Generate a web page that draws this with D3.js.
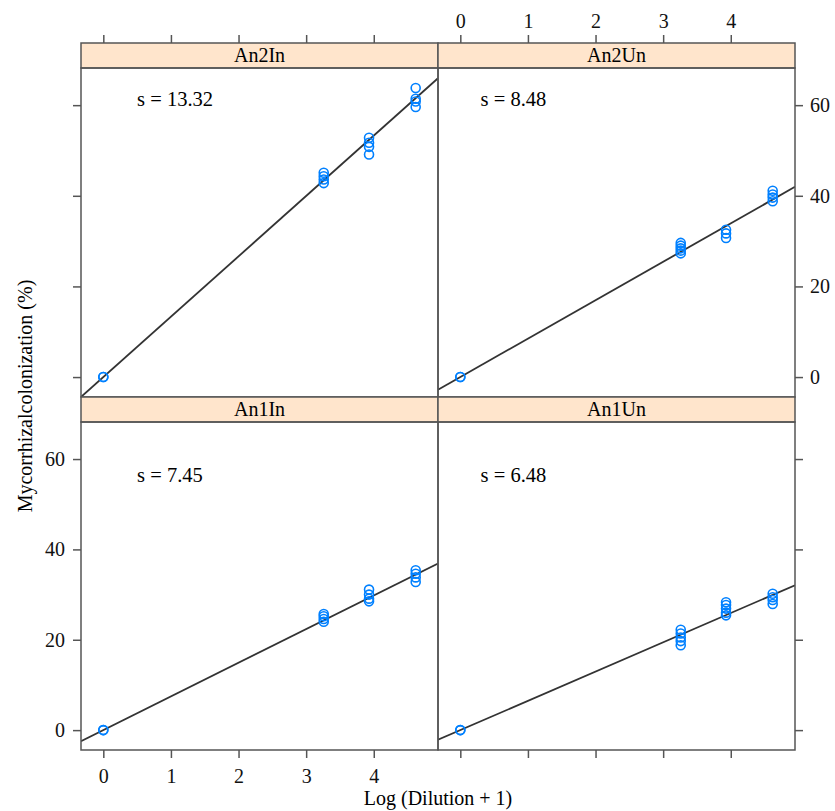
<!DOCTYPE html>
<html>
<head>
<meta charset="utf-8">
<script src="https://cdn.jsdelivr.net/npm/d3@7"></script>
<style>
  body { margin: 0; background: white; }
  svg text { font-family: "Times New Roman", "Liberation Serif", "DejaVu Serif", serif; }
</style>
</head>
<body>
<div id="chart"></div>
<script>
let w = 835;
let h = 811;
let serif = '"Times New Roman", "Liberation Serif", "DejaVu Serif", serif';

// data
let panelNames = ["An2In", "An2Un", "An1In", "An1Un"];
let slopes = [13.32, 8.48, 7.45, 6.48];
let dilutionX = [0, 3.26, 3.93, 4.62];
let xTicks = [0, 1, 2, 3, 4];
let yTicks = [0, 20, 40, 60];

// colonization values at each dilution level, per panel
let an2InY = [[0, 0], [45.1, 44.3, 43.6, 42.8], [52.8, 51.7, 50.8, 49.1], [63.8, 61.4, 60.8, 59.6]];
let an2UnY = [[0, 0], [29.6, 29.0, 28.4, 27.9, 27.3], [32.5, 31.7, 30.7], [41.1, 40.3, 39.6, 38.8]];
let an1InY = [[0, 0], [25.7, 25.2, 24.6, 24.0], [31.1, 30.0, 29.1, 28.5], [35.4, 34.6, 33.8, 32.8]];
let an1UnY = [[0, 0], [22.2, 21.4, 20.5, 19.7, 18.8], [28.3, 27.7, 26.9, 26.0, 25.4], [30.2, 29.4, 28.8, 27.9]];
let panelY = [an2InY, an2UnY, an1InY, an1UnY];

// where the "s = " label sits in each panel (data units)
let labelX = [0.5, 0.3, 0.5, 0.3];
let labelY = [61.3, 61.3, 56.4, 56.4];

let colLeft = [81, 438];
let colRight = [438, 795];
let rowStrip = [43, 397];
let stripH = 25;
let rowBottom = [397, 750];

let xDomain = [-0.33, 4.95];
let yDomain = [-4.4, 68.2];

let borderCol = "#555";
let fontSize = 20;

let svg = d3.select("#chart").append("svg")
  .attr("width", w)
  .attr("height", h);

let defs = svg.append("defs");

panelNames.forEach((name, i) => {
  let col = i % 2;
  let row = Math.floor(i / 2);

  let xScale = d3.scaleLinear().domain(xDomain).range([colLeft[col], colRight[col]]);
  let yScale = d3.scaleLinear().domain(yDomain).range([rowBottom[row], rowStrip[row] + stripH]);

  let g = svg.append("g").attr("class", "panel");

  // clip for the fitted line
  defs.append("clipPath").attr("id", "clip" + i)
    .append("rect")
    .attr("x", colLeft[col])
    .attr("y", rowStrip[row] + stripH)
    .attr("width", colRight[col] - colLeft[col])
    .attr("height", rowBottom[row] - rowStrip[row] - stripH);

  // fitted line y = s * x
  let lineData = xDomain.map(x => [x, slopes[i] * x]);
  g.append("path")
    .datum(lineData)
    .attr("clip-path", "url(#clip" + i + ")")
    .attr("fill", "none")
    .attr("stroke", "#333")
    .attr("stroke-width", 1.8)
    .attr("d", d3.line().x(d => xScale(d[0])).y(d => yScale(d[1])));

  // points
  let pts = [];
  panelY[i].forEach((vals, k) => {
    vals.forEach(v => pts.push({ x: dilutionX[k], y: v }));
  });
  g.selectAll(".datapoint").data(pts).enter()
    .append("circle")
    .attr("class", "datapoint")
    .attr("cx", d => xScale(d.x))
    .attr("cy", d => yScale(d.y))
    .attr("r", 4.5)
    .attr("fill", "none")
    .attr("stroke", "#0080ff")
    .attr("stroke-width", 1.6);

  // slope label
  g.append("text")
    .attr("x", xScale(labelX[i]))
    .attr("y", yScale(labelY[i]))
    .attr("dy", "0.35em")
    .style("font-size", "20.5px")
    .text("s = " + slopes[i].toFixed(2));

  // strip
  g.append("rect")
    .attr("x", colLeft[col])
    .attr("y", rowStrip[row])
    .attr("width", colRight[col] - colLeft[col])
    .attr("height", stripH)
    .attr("fill", "#ffe5cc")
    .attr("stroke", borderCol)
    .attr("stroke-width", 1.5);
  g.append("text")
    .attr("x", (colLeft[col] + colRight[col]) / 2)
    .attr("y", rowStrip[row] + 19)
    .attr("text-anchor", "middle")
    .style("font-size", fontSize + "px")
    .text(name);

  // panel border
  g.append("rect")
    .attr("x", colLeft[col])
    .attr("y", rowStrip[row] + stripH)
    .attr("width", colRight[col] - colLeft[col])
    .attr("height", rowBottom[row] - rowStrip[row] - stripH)
    .attr("fill", "none")
    .attr("stroke", borderCol)
    .attr("stroke-width", 1.5);

  // axes, lattice style alternating labels
  let showXLabel = (row === 0 && col === 1) || (row === 1 && col === 0);
  let showYLabel = (row === 1 && col === 0) || (row === 0 && col === 1);

  if (row === 0) {
    let ax = d3.axisTop(xScale).tickValues(xTicks).tickSize(8).tickPadding(7)
      .tickFormat(showXLabel ? d3.format("d") : "");
    g.append("g").attr("transform", `translate(0,${rowStrip[row]})`).call(ax);
  } else {
    let ax = d3.axisBottom(xScale).tickValues(xTicks).tickSize(8).tickPadding(11)
      .tickFormat(showXLabel ? d3.format("d") : "");
    g.append("g").attr("transform", `translate(0,${rowBottom[row]})`).call(ax);
  }
  if (col === 0) {
    let ay = d3.axisLeft(yScale).tickValues(yTicks).tickSize(8).tickPadding(8)
      .tickFormat(showYLabel ? d3.format("d") : "");
    g.append("g").attr("transform", `translate(${colLeft[col]},0)`).call(ay);
  } else {
    let ay = d3.axisRight(yScale).tickValues(yTicks).tickSize(8).tickPadding(7)
      .tickFormat(showYLabel ? d3.format("d") : "");
    g.append("g").attr("transform", `translate(${colRight[col]},0)`).call(ay);
  }
});

// style axes
svg.selectAll(".domain").remove();
svg.selectAll(".tick line").attr("stroke", borderCol).attr("stroke-width", 1.5);
svg.selectAll(".tick text")
  .attr("fill", "#111")
  .style("font-family", serif)
  .style("font-size", fontSize + "px");

svg.selectAll("text").style("font-family", serif);

// axis titles
svg.append("text")
  .attr("x", 438)
  .attr("y", 805)
  .attr("text-anchor", "middle")
  .style("font-family", serif)
  .style("font-size", fontSize + "px")
  .text("Log (Dilution + 1)");

svg.append("text")
  .attr("transform", "translate(32,396) rotate(-90)")
  .attr("text-anchor", "middle")
  .style("font-family", serif)
  .style("font-size", fontSize + "px")
  .text("Mycorrhizalcolonization (%)");
</script>
</body>
</html>
